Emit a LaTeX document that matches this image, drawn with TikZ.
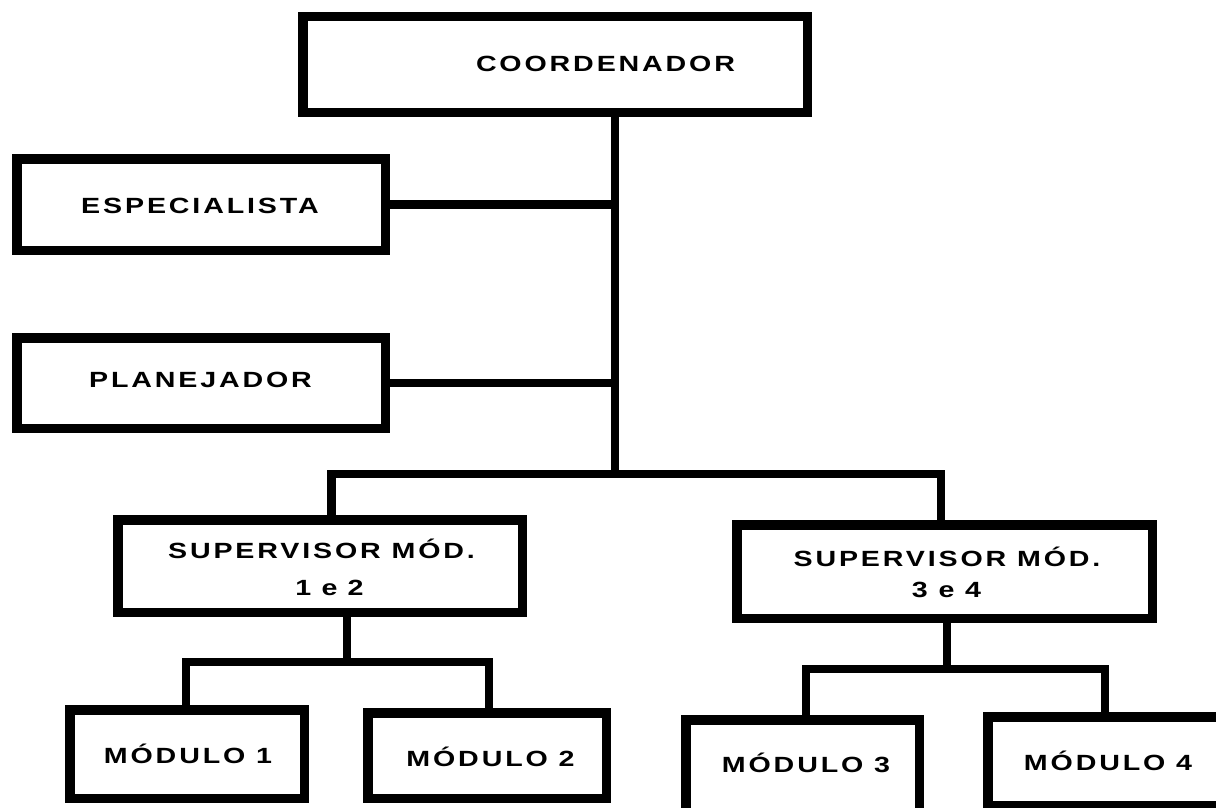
\documentclass[tikz,border=0pt]{standalone}
\usepackage{graphicx}
\usepackage{fontspec}
\newfontfamily\lbfont{Liberation Sans}
\newcommand\trk[2]{\scalebox{1.3}[1]{\addfontfeature{LetterSpace=#1}#2}}
\begin{document}
\begin{tikzpicture}[x=1pt,y=-1pt,
  box/.style={draw=black, line width=9.5pt, fill=white, inner sep=0pt, line join=miter, rectangle},
  conn/.style={draw=black, line width=8.5pt, line join=miter},
  lbl/.style={font=\lbfont\bfseries\fontsize{22}{28}\selectfont, inner sep=0pt, anchor=base}]
\clip (0,0) rectangle (1216,808);
\fill[white] (0,0) rectangle (1216,808);
% junction coordinates
\coordinate (j0) at (615,474);
\coordinate (hL) at (331.5,474);
\coordinate (hR) at (941,474);
\coordinate (aL) at (186,662);
\coordinate (aM) at (347,662);
\coordinate (aR) at (489,662);
\coordinate (bL) at (806,669);
\coordinate (bM) at (947,669);
\coordinate (bR) at (1105,669);
% boxes
\node[box, minimum width=504.5, minimum height=95.5] (coord) at (555,64.5) {};
\node[box, minimum width=368.5, minimum height=91.5] (espec) at (201,204.5) {};
\node[box, minimum width=368.5, minimum height=90.5] (plan) at (201,383) {};
\node[box, minimum width=404.5, minimum height=92.5] (sup1) at (320,566) {};
\node[box, minimum width=415.5, minimum height=93.5] (sup2) at (944.5,571.5) {};
\node[box, minimum width=234.5, minimum height=88.5] (mod1) at (187,754) {};
\node[box, minimum width=238.5, minimum height=85.5] (mod2) at (487,755.5) {};
\node[box, minimum width=233.5, minimum height=105.5] (mod3) at (802.5,772.5) {};
\node[box, minimum width=237.5, minimum height=88.5] (mod4) at (1106.5,761) {};
% connectors
\draw[conn] (coord.south -| j0) -- (j0);
\draw[conn] (espec.east) -- (espec.east -| j0);
\draw[conn] (plan.east) -- (plan.east -| j0);
\draw[conn] (sup1.north -| hL) -- (hL) -- (hR) -- (sup2.north -| hR);
\draw[conn] (sup1.south -| aM) -- (aM);
\draw[conn] (mod1.north -| aL) -- (aL) -- (aR) -- (mod2.north -| aR);
\draw[conn] (sup2.south -| bM) -- (bM);
\draw[conn] (mod3.north -| bL) -- (bL) -- (bR) -- (mod4.north -| bR);
% labels
\node[lbl] (tcoord) at (605.5,72) {\trk{10}{COORDENADOR}};
\node[lbl] (tespec) at (200,213) {\trk{10}{ESPECIALISTA}};
\node[lbl] (tplan) at (200.5,387) {\trk{10}{PLANEJADOR}};
\node[lbl] (tsup1a) at (321.5,558) {\trk{10}{SUPERVISOR MÓD.}};
\node[lbl] (tsup1b) at (329.5,595) {\trk{8}{1 e 2}};
\node[lbl] (tsup2a) at (947,566) {\trk{10}{SUPERVISOR MÓD.}};
\node[lbl] (tsup2b) at (946.5,597) {\trk{10}{3 e 4}};
\node[lbl] (tmod1) at (188,763) {\trk{10}{MÓDULO 1}};
\node[lbl] (tmod2) at (490.5,766) {\trk{10}{MÓDULO 2}};
\node[lbl] (tmod3) at (806,772) {\trk{10}{MÓDULO 3}};
\node[lbl] (tmod4) at (1108,770) {\trk{10}{MÓDULO 4}};
\end{tikzpicture}
\end{document}
